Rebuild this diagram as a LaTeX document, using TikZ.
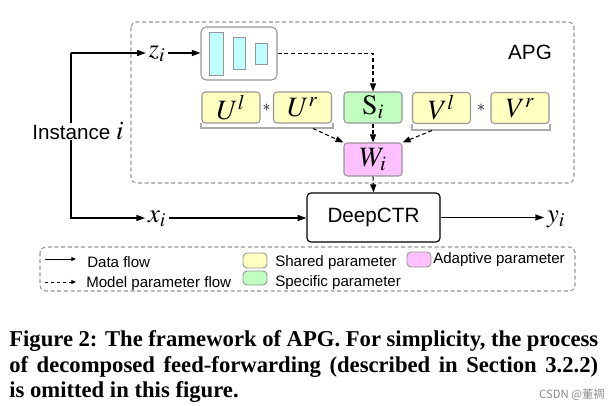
\documentclass[tikz,border=0pt]{standalone}
\usepackage{mathptmx}
\usepackage{fontspec}
\setmainfont{Liberation Sans}
\newfontfamily\capfont{Liberation Serif}
\newfontfamily\cjkfont{Noto Sans CJK SC}
\usetikzlibrary{arrows.meta}
\definecolor{shy}{RGB}{255,255,192}
\definecolor{spg}{RGB}{192,255,192}
\definecolor{adp}{RGB}{255,192,255}
\definecolor{mlpc}{RGB}{192,255,255}
\definecolor{bord}{RGB}{150,150,150}
\newcommand\pxu{0.75pt}
\newcommand\mainsz{\fontsize{15.5}{18}\selectfont}
\newcommand\mathsz{\fontsize{20}{24}\selectfont}
\newcommand\boxsz{\fontsize{21}{25}\selectfont}
\newcommand\legsz{\fontsize{11.3}{13}\selectfont}
\newcommand\capsz{\fontsize{17}{20}\selectfont}
\tikzset{
  pbox/.style={draw=bord, line width=0.8pt, rounded corners=2.5pt,
    minimum width=58*\pxu, minimum height=31*\pxu, inner sep=0pt, font=\boxsz},
  databox/.style={draw=black, line width=0.9pt, rounded corners=3pt,
    minimum width=133*\pxu, minimum height=49*\pxu, inner sep=0pt, font=\mainsz},
  dflow/.style={line width=1pt, -{Triangle[length=6.5pt,width=4.5pt]}},
  pflow/.style={line width=0.8pt, dash pattern=on 3pt off 2pt, -{Triangle[length=6pt,width=4.5pt]}},
  ldflow/.style={line width=0.7pt, -{Triangle[length=3.5pt,width=3pt]}},
  lpflow/.style={line width=0.7pt, dash pattern=on 2.5pt off 2pt, -{Triangle[length=3.5pt,width=3pt]}},
  gframe/.style={draw=bord, line width=0.8pt, dash pattern=on 3pt off 2pt, rounded corners=4pt},
  brk/.style={draw=bord!80, line width=1.5pt},
  bar/.style={draw=bord, fill=mlpc, line width=0.7pt},
  swatch/.style={draw=bord, line width=0.7pt, rounded corners=3pt},
  lab/.style={inner sep=0pt, font=\legsz, anchor=base west},
  mlab/.style={inner sep=2pt, font=\mathsz},
}
\begin{document}
\begin{tikzpicture}[x=0.75pt, y=-0.75pt]
\useasboundingbox (0,0) rectangle (613,406);
% APG frame
\draw[gframe] (131,22) rectangle (574,183);
\node[font=\mainsz, inner sep=0pt] (apg) at (530,52) {APG};
% MLP box
\node[draw=bord, line width=0.8pt, rounded corners=4pt, fill=white,
  minimum width=76*\pxu, minimum height=53*\pxu, inner sep=0pt] (mlp) at (239,53.5) {};
\draw[bar] (209,32) rectangle (223,75);
\draw[bar] (233,37) rectangle (245,69);
\draw[bar] (255,43) rectangle (267,64);
% parameter boxes
\node[pbox, fill=shy] (ul) at (231,107.5) {$U^l$};
\node[pbox, fill=shy] (ur) at (302.5,107.5) {$U^r$};
\node[pbox, fill=spg] (s) at (373,107.5) {$\mathrm{S}_i$};
\node[pbox, fill=shy] (vl) at (441.5,108) {$V^l$};
\node[pbox, fill=shy] (vr) at (520,108) {$V^r$};
\node[font=\fontsize{12}{14}\selectfont, inner sep=0pt] (st1) at (266.5,107.5) {$\ast$};
\node[font=\fontsize{12}{14}\selectfont, inner sep=0pt] (st2) at (481,108) {$\ast$};
\node[pbox, fill=adp, minimum height=33*\pxu] (w) at (373,159.5) {$W_i$};
\node[databox] (d) at (373.5,217.5) {DeepCTR};
% brackets
\draw[brk] (201,123) -- (201,128) -- (333,128) -- (333,123);
\draw[brk] (412,124) -- (412,130) -- (550,130) -- (550,124);
\coordinate (ub) at (313,128.5);
\coordinate (vb) at (432,130.5);
% labels
\node[mlab] (z) at (157,54) {$z_i$};
\node[mlab] (x) at (157,219) {$x_i$};
\node[mlab] (y) at (556,219) {$y_i$};
\coordinate (top) at (71,53);
\coordinate (bot) at (71,218);
% data flow
\draw[dflow] (top) -- (top -| z.west);
\draw[dflow] (top) -- (bot) -- (bot -| x.west);
\draw[dflow] (z.east |- top) -- (top -| mlp.west);
\draw[dflow] (x.east |- bot) -- (bot -| d.west);
\draw[dflow] (d.east) -- (d.east -| y.west);
% parameter flow
\draw[pflow] (mlp.east) -| (s.north);
\draw[pflow] (s.south) -- (w.north);
\draw[pflow] (ub) -- (w.north west);
\draw[pflow] (vb) -- (w.north east);
\draw[pflow] (w.south) -- (d.north);
% instance label
\node[anchor=base west, inner sep=0pt, fill=white, font=\mainsz] (inst) at (32,140)
  {Instance \mathsz$i$};
% legend
\draw[gframe] (40,247) rectangle (575,291);
\coordinate (l1a) at (45,259);
\coordinate (l1b) at (76,259);
\coordinate (l2a) at (45,282);
\coordinate (l2b) at (76,282);
\draw[ldflow] (l1a) -- (l1b);
\draw[lpflow] (l2a) -- (l2b);
\node[lab] (t1) at (87,267) {Data flow};
\node[lab] (t2) at (86,287) {Model parameter flow};
\draw[swatch, fill=shy] (243,253) rectangle (267,268);
\draw[swatch, fill=spg] (243,271) rectangle (267,285);
\draw[swatch, fill=adp] (407,252) rectangle (431,267);
\node[lab] (t3) at (275,266.5) {Shared parameter};
\node[lab] (t4) at (275,286.5) {Specific parameter};
\node[lab] (t5) at (433,263.5) {Adaptive parameter};
% caption
\node[anchor=base west, inner sep=0pt, font=\capfont\bfseries\capsz] (c1) at (9,346)
  {\makebox[441.75pt][s]{Figure 2: The framework of APG. For simplicity, the process}};
\node[anchor=base west, inner sep=0pt, font=\capfont\bfseries\capsz] (c2) at (9,372)
  {\makebox[441.75pt][s]{of decomposed feed-forwarding (described in Section 3.2.2)}};
\node[anchor=base west, inner sep=0pt, font=\capfont\bfseries\capsz] (c3) at (9,397)
  {is omitted in this figure.};
\node[anchor=base east, inner sep=0pt, text=black!45, font=\cjkfont\fontsize{8.5}{10}\selectfont] (wm) at (605,398)
  {CSDN @董禂};
\end{tikzpicture}
\end{document}
